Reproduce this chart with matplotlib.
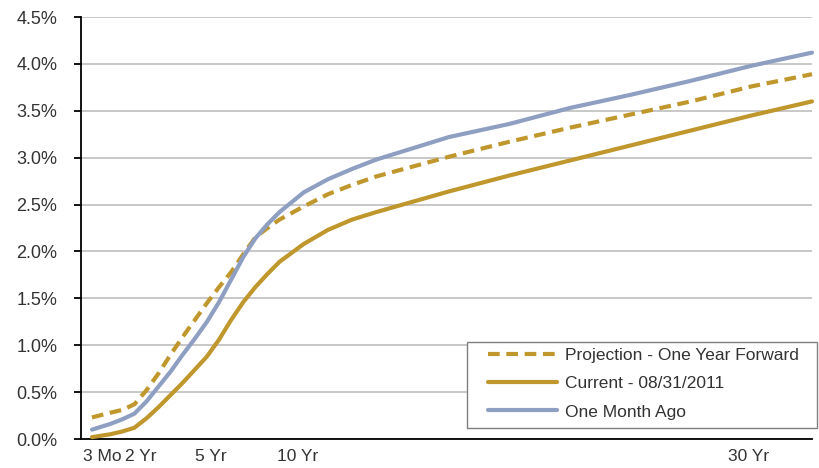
import matplotlib
matplotlib.use("Agg")
import matplotlib.pyplot as plt
from matplotlib.ticker import FuncFormatter
from matplotlib.patches import Rectangle

# maturity in years
maturity = [0.25, 1, 1.5, 2, 2.5, 3, 3.5, 4, 4.5, 5, 5.5, 6, 6.5, 7, 7.5, 8,
            9, 10, 11, 12, 15, 17.5, 20, 22.5, 25, 27.5, 30]
projection = [0.23, 0.28, 0.31, 0.37, 0.52, 0.70, 0.90, 1.09, 1.27, 1.45, 1.62, 1.78, 1.97, 2.15, 2.25, 2.34,
              2.48, 2.61, 2.71, 2.80, 3.01, 3.17, 3.32, 3.46, 3.60, 3.76, 3.89]
current = [0.02, 0.05, 0.08, 0.12, 0.22, 0.34, 0.47, 0.60, 0.74, 0.88, 1.06, 1.27, 1.46, 1.62, 1.76, 1.89,
           2.08, 2.23, 2.34, 2.42, 2.64, 2.81, 2.97, 3.13, 3.29, 3.45, 3.60]
month_ago = [0.10, 0.16, 0.21, 0.27, 0.40, 0.56, 0.72, 0.90, 1.07, 1.25, 1.46, 1.70, 1.94, 2.14, 2.29, 2.42,
             2.63, 2.77, 2.88, 2.98, 3.22, 3.36, 3.53, 3.67, 3.82, 3.98, 4.12]

tick_labels = ["3 Mo", "2 Yr", "5 Yr", "10 Yr", "30 Yr"]
tick_pos = [0.66, 2.27, 5.17, 8.76, 27.36]
y_ticks = [0.0, 0.5, 1.0, 1.5, 2.0, 2.5, 3.0, 3.5, 4.0, 4.5]

GOLD = "#BF972D"
BLUE = "#8E9FC2"
TXT = "#333333"

plt.rcParams['font.family'] = ['Liberation Sans', 'DejaVu Sans']

W, H = 819, 468
fig = plt.figure(figsize=(W / 100, H / 100), dpi=100)
ax = fig.add_axes([81 / W, (H - 439) / H, (812 - 81) / W, (439 - 17) / H])

ax.plot(maturity, projection, color=GOLD, lw=3.0, dashes=(2.8, 1.6),
        label="Projection - One Year Forward", clip_on=False, zorder=3)
ax.plot(maturity, current, color=GOLD, lw=3.0, solid_capstyle='round',
        solid_joinstyle='round', label="Current - 08/31/2011", clip_on=False, zorder=3)
ax.plot(maturity, month_ago, color=BLUE, lw=3.0, solid_capstyle='round',
        solid_joinstyle='round', label="One Month Ago", clip_on=False, zorder=3)

ax.set_xlim(0.25 - 11 / 24.2, 30)
ax.set_ylim(0, 4.5)
ax.set_yticks(y_ticks)
ax.yaxis.set_major_formatter(FuncFormatter(lambda v, p: f"{v:.1f}%"))
ax.set_xticks(tick_pos)
ax.set_xticklabels(tick_labels)

ax.grid(axis='y', color="#C4C4C4", lw=1.3)
ax.set_axisbelow(True)
for s in ['top', 'right']:
    ax.spines[s].set_visible(False)
for s in ['left', 'bottom']:
    ax.spines[s].set_color('black')
    ax.spines[s].set_linewidth(1.3)

ax.tick_params(axis='y', length=5, width=1.3, pad=12, labelsize=13, labelcolor=TXT)
ax.tick_params(axis='x', length=0, pad=7, labelsize=12.5, labelcolor=TXT)

# legend frame
frame = Rectangle((467 / W, 1 - 428 / H), (817 - 467) / W, (428 - 342) / H,
                  transform=fig.transFigure, facecolor='white', edgecolor="#7F7F7F",
                  lw=1.0, zorder=4, clip_on=False)
ax.add_patch(frame)
leg = ax.legend(loc='upper left', bbox_to_anchor=(488 / W, 1 - 348 / H),
                bbox_transform=fig.transFigure, frameon=False,
                fontsize=12.5, handlelength=4.0, handletextpad=0.45,
                labelspacing=0.75, borderpad=0, borderaxespad=0)
leg.set_zorder(6)
for t in leg.get_texts():
    t.set_color(TXT)

fig.savefig("out.png", dpi=100)
